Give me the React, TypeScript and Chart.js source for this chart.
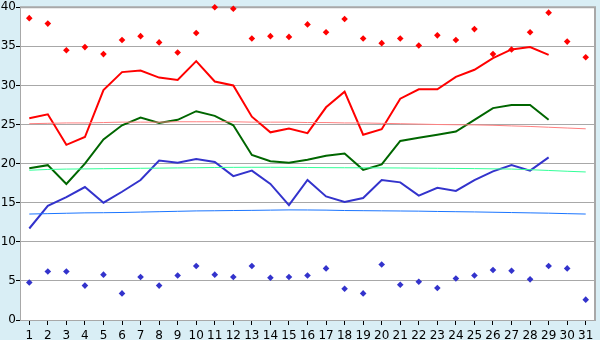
import React, { useEffect, useRef } from "react";
import { Chart, registerables } from "chart.js";

Chart.register(...registerables);

const days: string[] = Array.from({ length: 31 }, (_, i) => String(i + 1));

const maxTemp: (number | null)[] = [
  25.8, 26.3, 22.4, 23.4, 29.4, 31.7, 31.9, 31.0, 30.7, 33.1,
  30.5, 30.0, 26.0, 24.0, 24.5, 23.9, 27.2, 29.2, 23.7, 24.4,
  28.3, 29.5, 29.5, 31.1, 32.0, 33.5, 34.6, 34.9, 33.9, null, null,
];

const meanTemp: (number | null)[] = [
  19.4, 19.8, 17.4, 20.0, 23.1, 24.9, 25.9, 25.2, 25.6, 26.7,
  26.1, 24.9, 21.1, 20.3, 20.1, 20.5, 21.0, 21.3, 19.2, 19.9,
  22.9, 23.3, 23.7, 24.1, 25.6, 27.1, 27.5, 27.5, 25.6, null, null,
];

const minTemp: (number | null)[] = [
  11.7, 14.6, 15.7, 17.0, 15.0, 16.4, 17.9, 20.4, 20.1, 20.6,
  20.2, 18.4, 19.1, 17.4, 14.7, 17.9, 15.8, 15.1, 15.6, 17.9,
  17.6, 15.9, 16.9, 16.5, 17.9, 19.0, 19.8, 19.1, 20.8, null, null,
];

const recordHigh: number[] = [
  38.6, 37.9, 34.5, 34.9, 34.0, 35.8, 36.3, 35.5, 34.2, 36.7,
  40.0, 39.8, 36.0, 36.3, 36.2, 37.8, 36.8, 38.5, 36.0, 35.4,
  36.0, 35.1, 36.4, 35.8, 37.2, 34.0, 34.6, 36.8, 39.3, 35.6, 33.6,
];

const recordLow: number[] = [
  4.8, 6.2, 6.2, 4.4, 5.8, 3.4, 5.5, 4.4, 5.7, 6.9,
  5.8, 5.5, 6.9, 5.4, 5.5, 5.7, 6.6, 4.0, 3.4, 7.1,
  4.5, 4.9, 4.1, 5.3, 5.7, 6.4, 6.3, 5.2, 6.9, 6.6, 2.6,
];

const normalMax: number[] = [
  25.1, 25.15, 25.2, 25.2, 25.25, 25.3, 25.3, 25.3, 25.35, 25.35,
  25.35, 25.35, 25.3, 25.3, 25.3, 25.25, 25.25, 25.2, 25.2, 25.15,
  25.1, 25.05, 25.0, 24.97, 24.95, 24.9, 24.82, 24.75, 24.65, 24.55, 24.45,
];

const normalMean: number[] = [
  19.15, 19.25, 19.3, 19.32, 19.35, 19.37, 19.4, 19.42, 19.45, 19.47,
  19.5, 19.52, 19.53, 19.53, 19.52, 19.5, 19.48, 19.47, 19.46, 19.45,
  19.44, 19.42, 19.4, 19.38, 19.36, 19.33, 19.3, 19.22, 19.12, 19.02, 18.93,
];

const normalMin: number[] = [
  13.55, 13.6, 13.65, 13.7, 13.72, 13.75, 13.8, 13.85, 13.9, 13.95,
  13.97, 14.0, 14.02, 14.05, 14.08, 14.07, 14.05, 14.0, 13.98, 13.96,
  13.94, 13.92, 13.88, 13.85, 13.82, 13.78, 13.74, 13.7, 13.66, 13.6, 13.55,
];

const bgPlugin = {
  id: "bgPlugin",
  beforeDraw(chart: any) {
    const { ctx, chartArea } = chart;
    ctx.save();
    ctx.fillStyle = "#d9eef5";
    ctx.fillRect(0, 0, chart.width, chart.height);
    ctx.fillStyle = "#ffffff";
    ctx.fillRect(chartArea.left, chartArea.top, chartArea.right - chartArea.left, chartArea.bottom - chartArea.top);
    ctx.restore();
  },
  beforeDatasetsDraw(chart: any) {
    const { ctx, chartArea } = chart;
    ctx.save();
    ctx.strokeStyle = "#a8a8a8";
    ctx.lineWidth = 2;
    ctx.beginPath();
    ctx.moveTo(chartArea.left, chartArea.top);
    ctx.lineTo(chartArea.right, chartArea.top);
    ctx.lineTo(chartArea.right, chartArea.bottom);
    ctx.stroke();
    ctx.restore();
  },
};

export default function App() {
  const ref = useRef<HTMLCanvasElement | null>(null);
  useEffect(() => {
    if (!ref.current) return;
    const lineDs = (label: string, data: any[], color: string, width: number) => ({
      type: "line" as const,
      label,
      data,
      borderColor: color,
      backgroundColor: color,
      borderWidth: width,
      pointRadius: 0,
      tension: 0,
      fill: false,
      spanGaps: false,
    });
    const pointDs = (label: string, data: number[], color: string) => ({
      type: "line" as const,
      label,
      data,
      showLine: false,
      clip: false as any,
      borderColor: color,
      backgroundColor: color,
      pointStyle: "rectRot" as const,
      pointRadius: 3.3,
      pointBorderWidth: 0,
    });
    const chart = new Chart(ref.current, {
      type: "line",
      data: {
        labels: days,
        datasets: [
          lineDs("Normal max", normalMax, "#ff8080", 1),
          lineDs("Normal mean", normalMean, "#33ff99", 1),
          lineDs("Normal min", normalMin, "#1a75ff", 1),
          lineDs("Max", maxTemp, "#ff0000", 2),
          lineDs("Mean", meanTemp, "#006600", 2),
          lineDs("Min", minTemp, "#3333cc", 2),
          pointDs("Record high", recordHigh, "#ff0000"),
          pointDs("Record low", recordLow, "#3333cc"),
        ],
      },
      options: {
        animation: false,
        responsive: false,
        maintainAspectRatio: false,
        layout: { padding: { left: 0, top: 5, right: 5, bottom: 0 } },
        plugins: { legend: { display: false }, tooltip: { enabled: false } },
        scales: {
          x: {
            offset: true,
            grid: {
              offset: false,
              drawOnChartArea: false,
              drawTicks: true,
              tickLength: 5,
              tickColor: "#000000",
            },
            border: { display: true, color: "#a8a8a8" },
            ticks: {
              autoSkip: false,
              maxRotation: 0,
              padding: 4,
              color: "#000000",
              font: { family: "DejaVu Sans", size: 12 },
            },
            afterFit(scale: any) {
              scale.height = 20;
            },
          },
          y: {
            min: 0,
            max: 40,
            grid: {
              color: "#a8a8a8",
              drawTicks: true,
              tickLength: 4,
              tickColor: "#000000",
            },
            border: { display: true, color: "#a8a8a8" },
            ticks: {
              stepSize: 5,
              padding: 0,
              color: "#000000",
              font: { family: "DejaVu Sans", size: 12 },
            },
            afterFit(scale: any) {
              scale.width = 20;
            },
          },
        },
      },
      plugins: [bgPlugin],
    });
    return () => chart.destroy();
  }, []);
  return (
    <canvas
      ref={ref}
      width={600}
      height={340}
      style={{ position: "fixed", left: 0, top: 0, width: 600, height: 340 }}
    />
  );
}
